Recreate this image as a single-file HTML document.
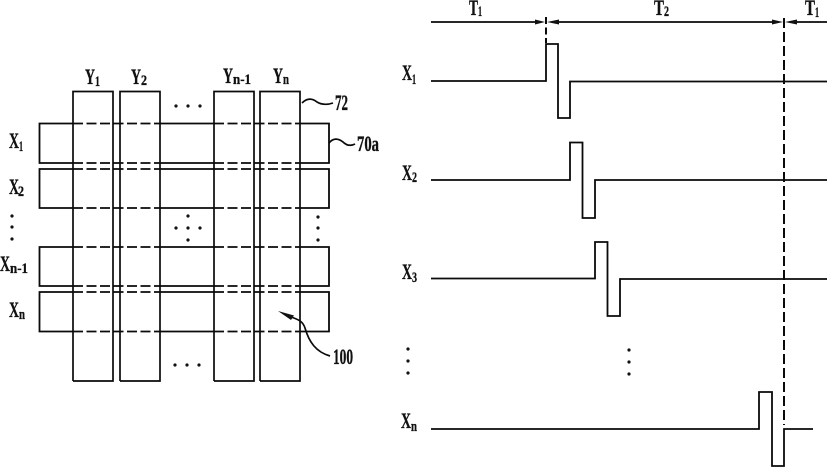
<!DOCTYPE html>
<html>
<head>
<meta charset="utf-8">
<style>
html,body{margin:0;padding:0;background:#fff;width:827px;height:468px;overflow:hidden}
svg{display:block}
text{font-family:"Liberation Serif",serif;font-weight:bold;fill:#111;stroke:#111;stroke-width:.35}
.b{font-size:22px}
.s{font-size:15px}
.n{font-size:22px}
.l{fill:none;stroke:#0a0a0a;stroke-width:1.7}
.d{fill:none;stroke:#0a0a0a;stroke-width:1.8;stroke-dasharray:10 3.5}
.w{fill:none;stroke:#0a0a0a;stroke-width:1.8}
</style>
</head>
<body>
<svg width="827" height="468" viewBox="0 0 827 468" xmlns="http://www.w3.org/2000/svg">
<!-- column outlines -->
<path class="l" d="M73 381V91.500H113V381H73M120 381V91.500H160V381H120M214 381V91.500H254V381H214M260 381V91.500H300V381H260"/>
<!-- row outer segments -->
<g class="w">
<path d="M73 123.500H39.500V163H73M160 123.500H214M300 123.500H329V163H300M160 163H214"/>
<path d="M73 169H39.500V208H73M160 169H214M300 169H329V208H300M160 208H214"/>
<path d="M73 247H39.500V286H73M160 247H214M300 247H329V286H300M160 286H214"/>
<path d="M73 292H39.500V331.500H73M160 292H214M300 292H329V331.500H300M160 331.500H214"/>
</g>
<!-- dashed crossings -->
<g class="d">
<path d="M73 123.500H160M214 123.500H300"/>
<path d="M73 163H160M214 163H300"/>
<path d="M73 169H160M214 169H300"/>
<path d="M73 208H160M214 208H300"/>
<path d="M73 247H160M214 247H300"/>
<path d="M73 286H160M214 286H300"/>
<path d="M73 292H160M214 292H300"/>
<path d="M73 331.500H160M214 331.500H300"/>
</g>
<!-- dots -->
<g fill="#111">
<circle cx="176" cy="106" r="1.600"/><circle cx="188" cy="106" r="1.600"/><circle cx="200" cy="106" r="1.600"/>
<circle cx="12" cy="216" r="1.600"/><circle cx="12" cy="227" r="1.600"/><circle cx="12" cy="239" r="1.600"/>
<circle cx="188" cy="216" r="1.600"/><circle cx="176" cy="228" r="1.600"/><circle cx="188" cy="228" r="1.600"/><circle cx="200" cy="228" r="1.600"/><circle cx="188" cy="240" r="1.600"/>
<circle cx="318" cy="217" r="1.600"/><circle cx="318" cy="228" r="1.600"/><circle cx="318" cy="240" r="1.600"/>
<circle cx="175" cy="365" r="1.600"/><circle cx="187" cy="365" r="1.600"/><circle cx="199" cy="365" r="1.600"/>
<circle cx="408" cy="349" r="1.600"/><circle cx="408" cy="361" r="1.600"/><circle cx="408" cy="373" r="1.600"/>
<circle cx="629" cy="350" r="1.600"/><circle cx="629" cy="362" r="1.600"/><circle cx="629" cy="374" r="1.600"/>
</g>
<!-- leaders -->
<path class="l" d="M302 103C307 98 312 98 317 102C322 105 327 105 333 103"/>
<path class="l" d="M329 143C333 138 338 138 343 142C347 146 351 146 355 144"/>
<path class="l" d="M291 317C300 320 303 322 305 328C309 342 316 352 330 356"/>
<path d="M278 311L294 315.500L291 320Z" fill="#111"/>
<!-- timing top -->
<path class="w" d="M431 22H536M556 22H773M797 22H827"/>
<path d="M545 22L535 19.500V24.500ZM547 22L559 19.500V24.500ZM783 22L772 19.500V24.500ZM785 22L797 19.500V24.500Z" fill="#111"/>
<path class="l" style="stroke-dasharray:7 3.500;stroke-width:2" d="M546 17V43"/>
<path class="l" style="stroke-dasharray:10 4;stroke-width:2" d="M784 18V425"/>
<!-- waveforms -->
<path class="w" d="M431 81H546V44H558V118H570V81.500H827"/>
<path class="w" d="M431 180H570V142.500H582.500V218H595V180H827"/>
<path class="w" d="M431 278.500H595V242H607.500V316H620V279H827"/>
<path class="w" d="M431 429H759V392H772V466H784V429H813"/>
<!-- labels left -->
<text class="b" x="85" y="84" textLength="10" lengthAdjust="spacingAndGlyphs">Y</text><text class="s" x="95" y="86" textLength="5" lengthAdjust="spacingAndGlyphs">1</text>
<text class="b" x="131" y="84" textLength="10" lengthAdjust="spacingAndGlyphs">Y</text><text class="s" x="141" y="85" textLength="6" lengthAdjust="spacingAndGlyphs">2</text>
<text class="b" x="223" y="83" textLength="10" lengthAdjust="spacingAndGlyphs">Y</text><text class="s" x="233" y="84" textLength="18" lengthAdjust="spacingAndGlyphs">n-1</text>
<text class="b" x="273" y="83" textLength="10" lengthAdjust="spacingAndGlyphs">Y</text><text class="s" x="283" y="84" textLength="6" lengthAdjust="spacingAndGlyphs">n</text>
<text class="b" x="9" y="148" textLength="10" lengthAdjust="spacingAndGlyphs">X</text><text class="s" x="19" y="151" textLength="4" lengthAdjust="spacingAndGlyphs">1</text>
<text class="b" x="9" y="194" textLength="10" lengthAdjust="spacingAndGlyphs">X</text><text class="s" x="18" y="196" textLength="6" lengthAdjust="spacingAndGlyphs">2</text>
<text class="b" x="0" y="271" textLength="10" lengthAdjust="spacingAndGlyphs">X</text><text class="s" x="10" y="273" textLength="18" lengthAdjust="spacingAndGlyphs">n-1</text>
<text class="b" x="9" y="317" textLength="10" lengthAdjust="spacingAndGlyphs">X</text><text class="s" x="19" y="319" textLength="6" lengthAdjust="spacingAndGlyphs">n</text>
<text class="n" x="335" y="110" textLength="13" lengthAdjust="spacingAndGlyphs">72</text>
<text class="n" x="357" y="151" textLength="22" lengthAdjust="spacingAndGlyphs">70a</text>
<text class="n" x="333" y="364" textLength="20" lengthAdjust="spacingAndGlyphs">100</text>
<!-- labels right -->
<text class="b" x="469" y="15" textLength="9" lengthAdjust="spacingAndGlyphs">T</text><text class="s" x="478" y="16" textLength="4" lengthAdjust="spacingAndGlyphs">1</text>
<text class="b" x="654" y="15" textLength="10" lengthAdjust="spacingAndGlyphs">T</text><text class="s" x="664" y="16" textLength="5" lengthAdjust="spacingAndGlyphs">2</text>
<text class="b" x="805" y="15" textLength="10" lengthAdjust="spacingAndGlyphs">T</text><text class="s" x="815" y="17" textLength="4" lengthAdjust="spacingAndGlyphs">1</text>
<text class="b" x="402" y="80" textLength="10" lengthAdjust="spacingAndGlyphs">X</text><text class="s" x="412" y="84" textLength="4" lengthAdjust="spacingAndGlyphs">1</text>
<text class="b" x="402" y="180" textLength="10" lengthAdjust="spacingAndGlyphs">X</text><text class="s" x="412" y="182" textLength="5" lengthAdjust="spacingAndGlyphs">2</text>
<text class="b" x="402" y="279" textLength="10" lengthAdjust="spacingAndGlyphs">X</text><text class="s" x="412" y="282" textLength="5" lengthAdjust="spacingAndGlyphs">3</text>
<text class="b" x="401" y="428" textLength="10" lengthAdjust="spacingAndGlyphs">X</text><text class="s" x="411" y="431" textLength="6" lengthAdjust="spacingAndGlyphs">n</text>
</svg>
</body>
</html>
